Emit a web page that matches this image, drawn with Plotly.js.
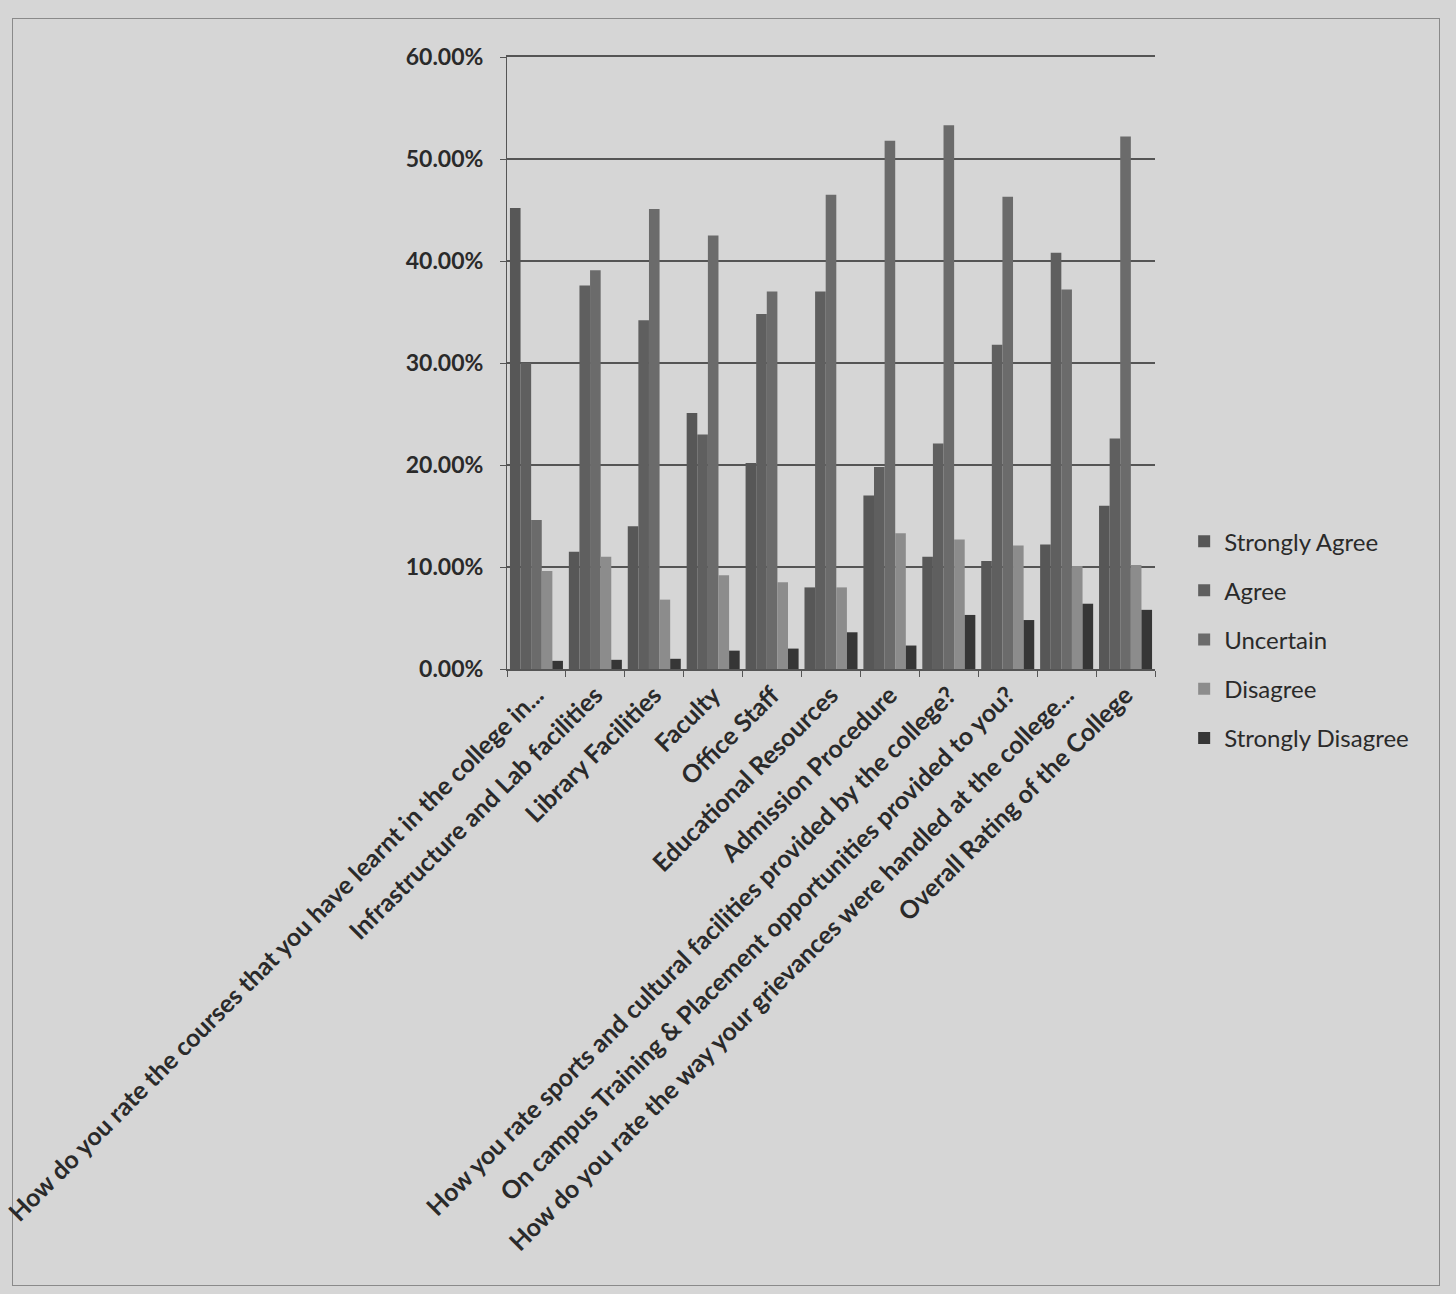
<!DOCTYPE html>
<html>
<head>
<meta charset="utf-8">
<script src="https://cdn.plot.ly/plotly-3.0.1.min.js"></script>
<style>
html,body{margin:0;padding:0;background:#d6d6d6;}
#frame{position:absolute;left:12px;top:18px;width:1426px;height:1266px;border:1px solid #8a8a8a;}
#chart{width:1456px;height:1294px;}
</style>
</head>
<body>
<div id="frame"></div>
<div id="chart"></div>
<script>
const categories = [
  "How do you rate the courses that you have learnt in the college in...",
  "Infrastructure and Lab facilities",
  "Library Facilities",
  "Faculty",
  "Office Staff",
  "Educational Resources",
  "Admission Procedure",
  "How you rate sports and cultural facilities provided by the college?",
  "On campus Training & Placement opportunities provided to you?",
  "How do you rate the way your grievances were handled at the college...",
  "Overall Rating of the College"
];
const stronglyAgree    = [0.452, 0.115, 0.140, 0.251, 0.202, 0.080, 0.170, 0.110, 0.106, 0.122, 0.160];
const agree            = [0.300, 0.376, 0.342, 0.230, 0.348, 0.370, 0.198, 0.221, 0.318, 0.408, 0.226];
const uncertain        = [0.146, 0.391, 0.451, 0.425, 0.370, 0.465, 0.518, 0.533, 0.463, 0.372, 0.522];
const disagree         = [0.096, 0.110, 0.068, 0.092, 0.085, 0.080, 0.133, 0.127, 0.121, 0.101, 0.102];
const stronglyDisagree = [0.008, 0.009, 0.010, 0.018, 0.020, 0.036, 0.023, 0.053, 0.048, 0.064, 0.058];
const seriesNames = ["Strongly Agree", "Agree", "Uncertain", "Disagree", "Strongly Disagree"];
const seriesValues = [stronglyAgree, agree, uncertain, disagree, stronglyDisagree];
const seriesColors = ["#575757", "#5f5f5f", "#6b6b6b", "#8c8c8c", "#363636"];

const traces = seriesNames.map((n, i) => ({
  type: "bar",
  name: n,
  legendgroup: "g" + i,
  x: categories,
  y: seriesValues[i],
  marker: {color: seriesColors[i]}
}));

const layout = {
  width: 1456,
  height: 1294,
  paper_bgcolor: "rgba(0,0,0,0)",
  plot_bgcolor: "rgba(0,0,0,0)",
  margin: {l: 507, r: 301, t: 57, b: 625},
  barmode: "group",
  bargap: 0.1,
  bargroupgap: 0,
  font: {family: "Lato, 'Open Sans', sans-serif", color: "#2a2a2a"},
  xaxis: {
    tickangle: -45,
    tickfont: {size: 25, color: "#2a2a2a", family: "Lato, sans-serif", weight: "bold"},
    showline: true,
    mirror: true,
    linecolor: "#555",
    linewidth: 1.5,
    ticks: "outside",
    tickson: "boundaries",
    ticklen: 6,
    tickcolor: "#555",
    automargin: false
  },
  yaxis: {
    range: [0, 0.6],
    dtick: 0.1,
    tickformat: ".2%",
    tickfont: {size: 23, color: "#2a2a2a", family: "Lato, sans-serif", weight: "bold"},
    gridcolor: "#555",
    gridwidth: 1.5,
    showline: true,
    linecolor: "#555",
    zeroline: false,
    ticks: "outside",
    ticklen: 6,
    tickcolor: "#555",
    ticklabelstandoff: 12,
    automargin: false
  },
  legend: {
    x: 1.045,
    y: 0.245,
    xanchor: "left",
    yanchor: "top",
    font: {size: 24, color: "#2a2a2a", family: "Lato, sans-serif"},
    bgcolor: "rgba(0,0,0,0)",
    tracegroupgap: 15,
    itemwidth: 30
  },
  showlegend: true
};

Plotly.newPlot("chart", traces, layout, {displayModeBar: false});
</script>
</body>
</html>
